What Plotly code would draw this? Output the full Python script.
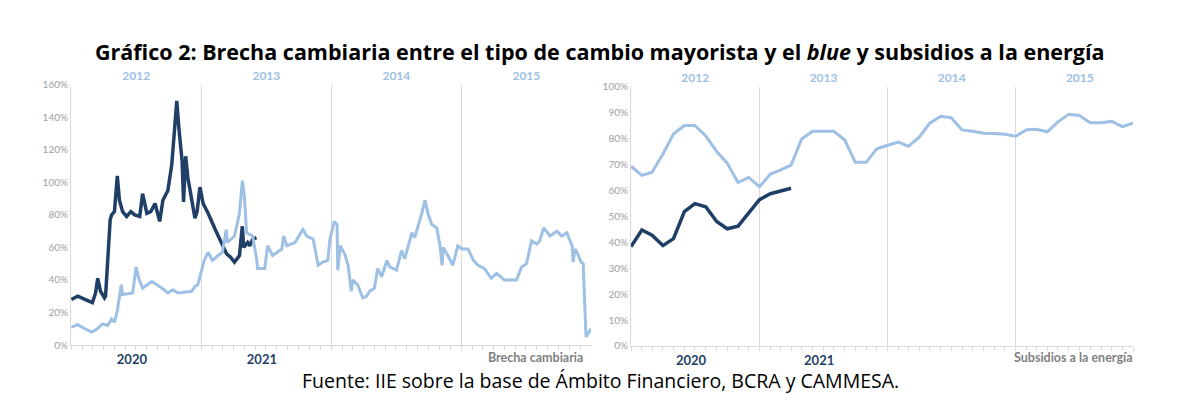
import plotly.graph_objects as go
import pandas as pd

# ---------------- data ----------------
# Brecha cambiaria (%), 2012-2015 series (top axis)
brecha_1215_dates = [
    "2012-01-02", "2012-01-20", "2012-02-09", "2012-02-28", "2012-03-15", "2012-03-29",
    "2012-04-13", "2012-04-24", "2012-05-02", "2012-05-10", "2012-05-21", "2012-05-25",
    "2012-06-22", "2012-07-02", "2012-07-09", "2012-07-20", "2012-08-15", "2012-09-12",
    "2012-09-29", "2012-10-13", "2012-10-27", "2012-12-05", "2012-12-14", "2012-12-22",
    "2013-01-03", "2013-01-09", "2013-01-20", "2013-02-01", "2013-02-17", "2013-03-01",
    "2013-03-12", "2013-03-15", "2013-04-04", "2013-04-18", "2013-04-26", "2013-05-02",
    "2013-05-08", "2013-05-25", "2013-06-05", "2013-06-08", "2013-06-28", "2013-07-06",
    "2013-07-20", "2013-08-15", "2013-08-20", "2013-08-29", "2013-09-21", "2013-10-13",
    "2013-10-24", "2013-11-11", "2013-11-25", "2013-12-08", "2013-12-22", "2013-12-28",
    "2014-01-09", "2014-01-17", "2014-01-19", "2014-01-26", "2014-02-09", "2014-02-17",
    "2014-02-26", "2014-03-02", "2014-03-16", "2014-03-30", "2014-04-10", "2014-04-18",
    "2014-05-02", "2014-05-11", "2014-05-22", "2014-06-06", "2014-06-14", "2014-07-03",
    "2014-07-17", "2014-07-26", "2014-08-15", "2014-08-23", "2014-09-12", "2014-09-21",
    "2014-09-29", "2014-10-10", "2014-10-24", "2014-11-02", "2014-11-08", "2014-11-11",
    "2014-11-24", "2014-12-08", "2014-12-22", "2015-01-03", "2015-01-20", "2015-02-04",
    "2015-02-17", "2015-03-07", "2015-03-26", "2015-04-10", "2015-05-02", "2015-06-05",
    "2015-06-19", "2015-07-03", "2015-07-17", "2015-08-01", "2015-08-09", "2015-08-20",
    "2015-09-07", "2015-09-26", "2015-10-10", "2015-10-24", "2015-11-08", "2015-11-11",
    "2015-11-16", "2015-11-24", "2015-12-03", "2015-12-09", "2015-12-17", "2015-12-31",
]
brecha_1215_vals = [
    11, 12.5, 10, 8, 10, 13,
    12, 16, 14, 21, 37, 31,
    32, 48, 41, 35, 39, 35,
    32, 34, 32, 33, 36, 37,
    47, 52, 57, 52, 55, 57,
    71, 63, 67, 81, 101, 91,
    69, 67, 53, 47, 47, 61,
    55, 59, 67, 61, 63, 71,
    67, 65, 49, 51, 52, 65,
    76, 74, 46, 61, 55, 49,
    33, 40, 37, 29, 30, 33,
    35, 47, 42, 52, 48, 46,
    58, 53, 69, 66, 81, 89,
    81, 74, 72, 61, 49, 60,
    55, 49, 61, 59, 59, 52,
    49, 47, 41, 44, 40, 40,
    48, 50, 64, 62, 64, 72,
    67, 70, 67, 69, 61, 51,
    59, 56, 51, 50, 5, 10,
]

# Brecha cambiaria (%), 2020-2021 series (bottom axis)
brecha_2021_dates = [
    "2020-01-02", "2020-01-20", "2020-02-09", "2020-03-01", "2020-03-10", "2020-03-16",
    "2020-03-24", "2020-04-04", "2020-04-07", "2020-04-20", "2020-04-24", "2020-05-02",
    "2020-05-10", "2020-05-16", "2020-05-25", "2020-06-05", "2020-06-17", "2020-06-28",
    "2020-07-12", "2020-07-20", "2020-08-01", "2020-08-12", "2020-08-24", "2020-09-02",
    "2020-09-06", "2020-09-15", "2020-09-29", "2020-10-10", "2020-10-19", "2020-10-24",
    "2020-10-30", "2020-11-08", "2020-11-12", "2020-11-18", "2020-11-24", "2020-12-05",
    "2020-12-14", "2020-12-20", "2020-12-28", "2021-01-06", "2021-01-20", "2021-02-09",
    "2021-03-01", "2021-03-13", "2021-03-24", "2021-04-04", "2021-04-18", "2021-04-26",
    "2021-04-30", "2021-05-11", "2021-05-17", "2021-05-25", "2021-06-05",
]
brecha_2021_vals = [
    28, 30, 28, 26, 32, 41,
    33, 29, 30, 77, 80, 82,
    104, 89, 82, 79, 82, 80,
    79, 93, 81, 82, 87, 80,
    76, 89, 95, 111, 133, 150,
    133, 113, 88, 116, 103, 90,
    78, 82, 97, 87, 81, 71,
    61, 56, 54, 51, 55, 73,
    60, 63, 61, 65, 66,
]

# Subsidios a la energía (%), monthly
subs_1215_months = pd.date_range("2012-01-01", "2015-12-01", freq="MS")
subs_1215_vals = [
    69.3, 65.8, 67, 74, 81.7, 85, 85, 81, 75, 70.5, 63, 65,
    61.4, 66.3, 67.8, 69.7, 79.8, 82.8, 82.8, 82.8, 79.4, 70.8, 70.8, 76,
    77.4, 78.6, 77, 80.5, 85.9, 88.6, 88, 83.3, 82.8, 82, 81.9, 81.6,
    80.9, 83.4, 83.6, 82.6, 86.4, 89.3, 88.9, 86.1, 86.1, 86.6, 84.6, 85.9,
]
subs_2021_months = pd.date_range("2020-01-01", "2021-04-01", freq="MS")
subs_2021_vals = [
    38.3, 44.7, 42.7, 38.7, 41.4, 51.8, 54.9, 53.7, 48, 45.2, 46.2, 51.2,
    56.4, 58.7, 59.7, 60.8,
]

top_years_label = ["2012", "2013", "2014", "2015"]
bottom_years_label = ["2020", "2021"]
left_yticks = list(range(0, 161, 20))
right_yticks = list(range(0, 101, 10))

# ---------------- style ----------------
DARK = "#1f3f66"
LIGHT = "#9dc0e4"
GRID = "#d9d9d9"
TICKGRAY = "#a0a0a0"
FONT = "Lato"
TFONT = "Open Sans"

fig = go.Figure()

fig.add_trace(go.Scatter(x=brecha_1215_dates, y=brecha_1215_vals, xaxis="x2", yaxis="y",
                         mode="lines", line=dict(color=LIGHT, width=3), showlegend=False))
fig.add_trace(go.Scatter(x=brecha_2021_dates, y=brecha_2021_vals, xaxis="x", yaxis="y",
                         mode="lines", line=dict(color=DARK, width=3.5), showlegend=False))
fig.add_trace(go.Scatter(x=subs_1215_months, y=subs_1215_vals, xaxis="x4", yaxis="y2",
                         mode="lines", line=dict(color=LIGHT, width=3), showlegend=False))
fig.add_trace(go.Scatter(x=subs_2021_months, y=subs_2021_vals, xaxis="x3", yaxis="y2",
                         mode="lines", line=dict(color=DARK, width=3.5), showlegend=False))

LD = [71 / 1200, 591 / 1200]
RD = [631 / 1200, 1133 / 1200]
LY = [(420 - 349) / 420, (420 - 81) / 420]
RY = [(420 - 350) / 420, (420 - 83) / 420]


def bottom_axis(domain, anchor, rng):
    return dict(domain=domain, anchor=anchor, type="date", range=rng,
                tickmode="array",
                tickvals=[bottom_years_label[0] + "-06-20", bottom_years_label[1] + "-06-20"],
                ticktext=bottom_years_label, ticks="", ticklabelstandoff=2,
                tickfont=dict(family=FONT, size=13, color=DARK, weight="bold"),
                showline=True, linecolor=GRID, linewidth=1, showgrid=False, zeroline=False,
                minor=dict(ticks="outside", dtick="M1", tick0="2020-01-01", ticklen=4,
                           tickcolor=GRID, showgrid=False),
                fixedrange=True)


def top_axis(overlay, anchor, rng):
    return dict(overlaying=overlay, anchor=anchor, side="top", type="date", range=rng,
                dtick="M12", tick0="2012-01-01", ticklabelmode="period", tickformat="%Y",
                ticks="", showline=False, showgrid=True, gridcolor=GRID, gridwidth=1,
                zeroline=False, ticklabelstandoff=1,
                tickfont=dict(family=FONT, size=12, color=LIGHT, weight="bold"),
                fixedrange=True)


def y_axis(domain, anchor, rng, ticks):
    return dict(domain=domain, anchor=anchor, range=rng, tickmode="array", tickvals=ticks,
                ticktext=[f"{t}%" for t in ticks], showgrid=False, zeroline=False,
                showline=True, linecolor=GRID, linewidth=1, ticks="",
                tickfont=dict(family=FONT, size=10, color=TICKGRAY), fixedrange=True)


fig.update_layout(
    width=1200, height=420, margin=dict(l=0, r=0, t=0, b=0),
    paper_bgcolor="white", plot_bgcolor="white",
    xaxis=bottom_axis(LD, "y", ["2020-01-01", "2023-12-31"]),
    xaxis2=top_axis("x", "y", ["2012-01-01", "2015-12-31"]),
    xaxis3=bottom_axis(RD, "y2", ["2020-01-01", "2023-12-01"]),
    xaxis4=top_axis("x3", "y2", ["2012-01-01", "2015-12-01"]),
    yaxis=y_axis(LY, "x", [0, 160], left_yticks),
    yaxis2=y_axis(RY, "x3", [0, 100], right_yticks),
    annotations=[
        dict(text="<b>Gráfico 2: Brecha cambiaria entre el tipo de cambio mayorista y el "
                  "<i>blue</i> y subsidios a la energía</b>",
             x=0.5, y=(420 - 47) / 420, xref="paper", yref="paper", showarrow=False,
             xanchor="center", yanchor="middle",
             font=dict(family=TFONT, size=21.5, color="black")),
        dict(text="Fuente: IIE sobre la base de Ámbito Financiero, BCRA y CAMMESA.",
             x=0.5, y=(420 - 385) / 420, xref="paper", yref="paper", showarrow=False,
             xanchor="center", yanchor="middle",
             font=dict(family=TFONT, size=19.5, color="black")),
        dict(text="<b>Brecha cambiaria</b>", x=535 / 1200, y=(420 - 362) / 420,
             xref="paper", yref="paper", showarrow=False, xanchor="center", yanchor="middle",
             font=dict(family=FONT, size=12.5, color="#7f7f7f")),
        dict(text="<b>Subsidios a la energía</b>", x=1073 / 1200, y=(420 - 362) / 420,
             xref="paper", yref="paper", showarrow=False, xanchor="center", yanchor="middle",
             font=dict(family=FONT, size=12.5, color="#7f7f7f")),
    ],
)

fig.write_html("out.html")
